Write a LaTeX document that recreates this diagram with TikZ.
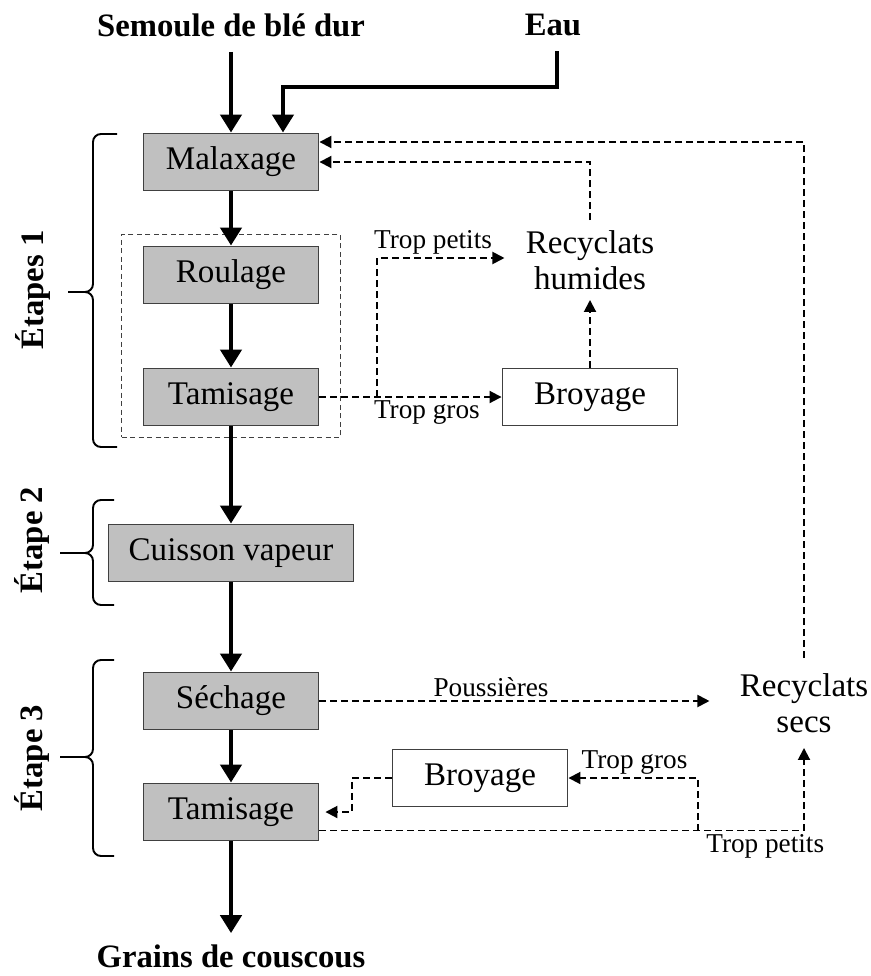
\documentclass[tikz,border=0pt]{standalone}
\usepackage{fontspec}
\setmainfont{Liberation Serif}
\usetikzlibrary{arrows.meta,fit}
\definecolor{boxgray}{RGB}{192,192,192}
\definecolor{boxedge}{RGB}{64,64,64}

\begin{document}
\begin{tikzpicture}[x=0.02cm, y=-0.02cm,
	etape/.style={draw=boxedge, fill=boxgray, line width=1.1pt, minimum width=3.5cm, minimum height=1.14cm, inner sep=0pt, font=\fontsize{18.8}{22}\selectfont},
	broyeur/.style={etape, fill=white},
	io/.style={inner sep=0.3cm, font=\fontsize{18.6}{22}\selectfont\bfseries},
	recyclat/.style={align=center, font=\fontsize{18.8}{20.5}\selectfont},
	lbl/.style={inner sep=0.06cm, font=\fontsize{15.5}{18}\selectfont},
	flux/.style={line width=2.5pt, -{Triangle[length=0.36cm,width=0.42cm]}},
	retour/.style={line width=1.1pt, dash pattern=on 0.14cm off 0.08cm, -{Triangle[length=0.24cm,width=0.24cm]}},
	groupe/.style={draw=boxedge, line width=0.7pt, dash pattern=on 0.1cm off 0.07cm},
	accolade/.style={line width=1.1pt, rounded corners=0.16cm},
	nometape/.style={rotate=90, font=\fontsize{18.6}{22}\selectfont\bfseries}]
	\useasboundingbox (0,0) rectangle (871,976);

	%Les noeuds ici
	\node[io] (semoule) at (231,25) {Semoule de blé dur};
	\node[io] (eau) at (553,25) {Eau};
	\node[etape] (malax) at (231,162) {Malaxage};
	\node[etape] (roul) at (231,275) {Roulage};
	\node[etape] (tam1) at (231,397) {Tamisage};
	\node[etape, minimum width=4.9cm] (cuis) at (231,553) {Cuisson vapeur};
	\node[etape] (sech) at (231,701) {Séchage};
	\node[etape] (tam2) at (231,812) {Tamisage};
	\node[io, inner sep=0.22cm] (grains) at (231,956) {Grains de couscous};
	\node[broyeur] (broy1) at (590,397) {Broyage};
	\node[broyeur] (broy2) at (480,778) {Broyage};
	\node[recyclat, inner xsep=0.42cm, inner ysep=0.2cm] (rechum) at (590,260) {Recyclats\\humides};
	\node[recyclat, inner xsep=0.6cm, inner ysep=0.3cm] (recsec) at (804,703) {Recyclats\\secs};
	\node[groupe, fit=(roul)(tam1), inner xsep=0.42cm, inner ysep=0.22cm] (grp) {};
	\coordinate (fourche1) at (377,397);
	\coordinate (fourche2) at (698,831);

	%Les etapes
	\node[nometape] (etape1) at (33,290) {Étapes 1};
	\node[nometape] (etape2) at (32,540) {Étape 2};
	\node[nometape] (etape3) at (32,758) {Étape 3};
	\foreach \haut/\milieu/\bas/\pointe/\bout in {134/292/447/68/117, 500/553/605/60/114, 660/757/856/60/114}{
		\draw[accolade] (\bout,\haut) -- (93,\haut) -- (93,\milieu) -- (\pointe,\milieu);
		\draw[accolade] (\bout,\bas) -- (93,\bas) -- (93,\milieu) -- (\pointe,\milieu);
	}

	%Les fleches ici
	\draw[flux] (semoule) -- (malax);
	\draw[flux] ([xshift=0.08cm]eau.south) -- ++(0,36) -| ([xshift=1.04cm]malax.north);
	\foreach \a/\b in {malax/roul, roul/tam1, tam1/cuis, cuis/sech, sech/tam2, tam2/grains}
		\draw[flux] (\a) -- (\b);

	\draw[retour] (tam1.east) -- node[lbl, below, pos=0.59] {Trop gros} (tam1.east -| broy1.west);
	\draw[retour] (fourche1) |- node[lbl, above, pos=0.72] {Trop petits} ([yshift=0.04cm]rechum.west);
	\draw[retour] (broy1) -- (rechum);
	\draw[retour] (rechum.north) |- (malax.east);
	\draw[retour] (recsec.north) |- ([yshift=0.4cm]malax.east);
	\draw[retour] (sech.east) -- node[lbl, above, pos=0.44] {Poussières} (sech.east -| recsec.west);
	\draw[retour] ([yshift=-0.37cm]tam2.east) -| node[lbl, below, pos=0.46] {Trop petits} (recsec.south);
	\draw[retour] (fourche2) |- node[lbl, above, pos=0.745] {Trop gros} (broy2.east);
	\draw[retour, shorten >=0.12cm] (broy2.west) -- ++(-40,0) |- (tam2.east);
\end{tikzpicture}
\end{document}
